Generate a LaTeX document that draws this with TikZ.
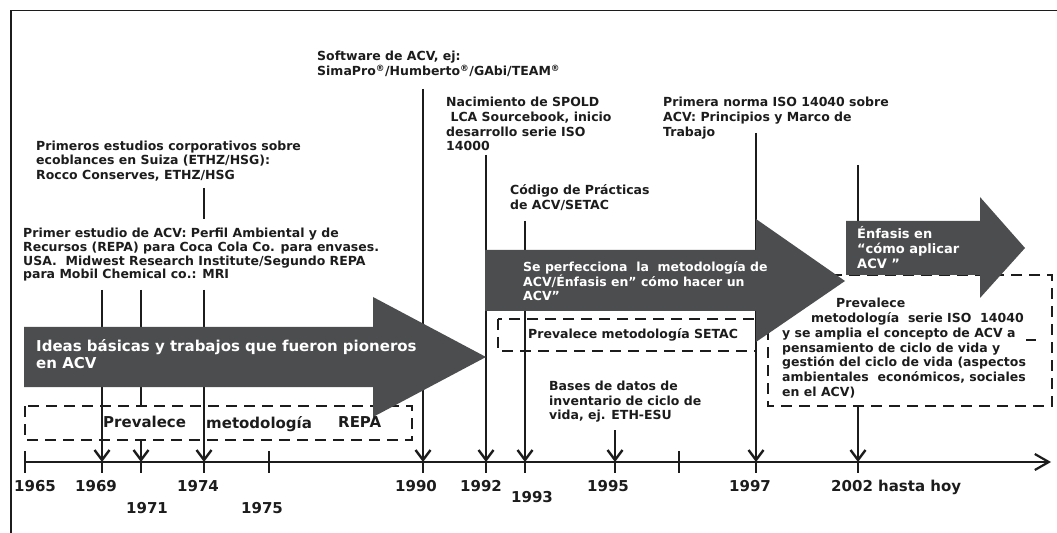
\documentclass[tikz,border=0pt]{standalone}
\usepackage{fontspec}
\setmainfont{DejaVu Sans}
\usetikzlibrary{arrows.meta}
\definecolor{arrowgray}{RGB}{76,77,79}
\definecolor{ink}{RGB}{28,28,28}
\begin{document}
\begin{tikzpicture}[x=1bp,y=-1bp,
  inkline/.style={draw=ink, line width=2.6bp},
  varrow/.style={draw=ink, line width=2.6bp, -{Straight Barb[length=10bp,width=15bp,line width=2.4bp]}},
  tickline/.style={draw=ink, line width=2.2bp},
  dbox/.style={draw=ink, line width=2.6bp, dash pattern=on 11bp off 7bp},
  bigarrow/.style={fill=arrowgray, draw=none},
  note/.style={font=\fontsize{12.5bp}{14.2bp}\selectfont\bfseries, text=ink, anchor=north west, inner sep=0pt, align=left},
  bignote/.style={font=\fontsize{15bp}{17bp}\selectfont\bfseries, text=ink, anchor=north west, inner sep=0pt, align=left},
  year/.style={font=\fontsize{15bp}{17bp}\selectfont\bfseries, text=ink, anchor=base, inner sep=0pt},
]
\useasboundingbox (0,0) rectangle (1057,533);
% frame
\draw[draw=ink, line width=1.6bp] (1057,10.5) -- (11,10.5) -- (11,533);

% dashed boxes
\draw[dbox] (25,406) rectangle (412,440);
\draw[dbox] (498,319) rectangle (756,351);
\draw[dbox] (768,275) rectangle (1052,406);
\draw[draw=ink, line width=2.6bp] (1026,340) -- (1036,340);

% coordinates
\coordinate (t69) at (102,290);   \coordinate (a69) at (102,462);
\coordinate (t71) at (141,290);   \coordinate (b71) at (141,406);
\coordinate (c71) at (141,440);   \coordinate (a71) at (141,462);
\coordinate (u74) at (204,188);   \coordinate (v74) at (204,219);
\coordinate (t74) at (204,290);   \coordinate (a74) at (204,462);
\coordinate (t90) at (423,89);    \coordinate (a90) at (423,462);
\coordinate (t92) at (486,155);   \coordinate (a92) at (486,462);
\coordinate (t93) at (525,221);   \coordinate (a93) at (525,462);
\coordinate (t95) at (615,430);   \coordinate (a95) at (615,462);
\coordinate (t97) at (756,133);   \coordinate (a97) at (756,462);
\coordinate (u02) at (858,165);   \coordinate (v02) at (858,240);
\coordinate (t02) at (858,406);   \coordinate (a02) at (858,462);
\coordinate (axs) at (25,462);    \coordinate (axe) at (1051,462);

% vertical connectors
\draw[varrow] (t69) -- (a69);
\draw[inkline] (t71) -- (b71);
\draw[varrow] (c71) -- (a71);
\draw[inkline] (u74) -- (v74);
\draw[varrow] (t74) -- (a74);
\draw[varrow] (t90) -- (a90);
\draw[varrow] (t92) -- (a92);
\draw[varrow] (t93) -- (a93);
\draw[varrow] (t95) -- (a95);
\draw[varrow] (t97) -- (a97);
\draw[inkline] (u02) -- (v02);
\draw[varrow] (t02) -- (a02);

% axis
\draw[draw=ink, line width=2.4bp, -{Straight Barb[length=14bp,width=16bp,line width=2.2bp]}] (axs) -- (axe);
\foreach \x in {25,269,679} \draw[tickline] (\x,451) -- (\x,473);
\foreach \x in {102,141,204,423,486,525,615,756,858} \draw[tickline] (\x,462) -- (\x,473);

% big arrows
\path[bigarrow] (24,327) -- (373,327) -- (373,297) -- (486,357) -- (373,417) -- (373,387) -- (24,387) -- cycle;
\path[bigarrow] (485,250) -- (756,250) -- (756,219) -- (845,281) -- (756,342) -- (756,311) -- (485,311) -- cycle;
\path[bigarrow] (846,221) -- (980,221) -- (980,197) -- (1025,248) -- (980,298) -- (980,275) -- (846,275) -- cycle;

% texts
\node[note] (n1) at (36,141) {Primeros estudios corporativos sobre\\ecoblances en Suiza (ETHZ/HSG):\\Rocco Conserves, ETHZ/HSG};
\node[note, font=\fontsize{12.5bp}{13.7bp}\selectfont\bfseries] (n2) at (23,228) {Primer estudio de ACV: Perfil Ambiental y de\\Recursos (REPA) para Coca Cola Co. para envases.\\USA.\ \ Midwest Research Institute/Segundo REPA\\para Mobil Chemical co.: MRI};
\node[note, font=\fontsize{12.5bp}{15bp}\selectfont\bfseries] (n3) at (317,51) {Software de ACV, ej:\\SimaPro\textsuperscript{®}/Humberto\textsuperscript{®}/GAbi/TEAM\textsuperscript{®}};
\node[note, font=\fontsize{12.5bp}{14.7bp}\selectfont\bfseries] (n4) at (446,97) {Nacimiento de SPOLD\\\ LCA Sourcebook, inicio\\desarrollo serie ISO\\14000};
\node[note, font=\fontsize{12.5bp}{14.7bp}\selectfont\bfseries] (n5) at (663,97) {Primera norma ISO 14040 sobre\\ACV: Principios y Marco de\\Trabajo};
\node[note, font=\fontsize{12.5bp}{15bp}\selectfont\bfseries] (n6) at (510,184) {Código de Prácticas\\de ACV/SETAC};
\node[note, font=\fontsize{12.5bp}{14.5bp}\selectfont\bfseries] (n7) at (549,381) {Bases de datos de\\inventario de ciclo de\\vida, ej. ETH-ESU};
\node[bignote, text=white] (n8) at (36,339) {Ideas básicas y trabajos que fueron pioneros\\en ACV};
\node[note, text=white, font=\fontsize{12.5bp}{13.6bp}\selectfont\bfseries] (n9) at (523,261) {Se perfecciona\ \ la\ \ metodología de\\ACV/Énfasis en” cómo hacer un\\ACV”};
\node[note] (n10) at (528,328) {Prevalece metodología SETAC};
\node[bignote] (r1) at (103,416) {Prevalece};
\node[bignote] (r2) at (206,416) {metodología};
\node[bignote] (r3) at (338,416) {REPA};
\node[note, text=white, font=\fontsize{13bp}{15bp}\selectfont\bfseries] (n11) at (857,226) {Énfasis en\\“cómo aplicar\\ACV ”};
\node[note, font=\fontsize{12.5bp}{14.8bp}\selectfont\bfseries] (n12) at (782,298) {\hspace*{54bp}Prevalece\\\hspace*{29bp}metodología\ \ serie ISO\ \ 14040\\y se amplia el concepto de ACV a\\pensamiento de ciclo de vida y\\gestión del ciclo de vida (aspectos\\ambientales\ \ económicos, sociales\\en el ACV)};

% axis labels
\node[year] (y65) at (35,491.5) {1965};
\node[year] (y69) at (96,491.5) {1969};
\node[year] (y71) at (147,513.5) {1971};
\node[year] (y74) at (198,491.5) {1974};
\node[year] (y75) at (262,513.5) {1975};
\node[year] (y90) at (416,491.5) {1990};
\node[year] (y92) at (481,491.5) {1992};
\node[year] (y93) at (532,502.5) {1993};
\node[year] (y95) at (608,491.5) {1995};
\node[year] (y97) at (750,491.5) {1997};
\node[year, anchor=base west] (y02) at (831,491.5) {2002 hasta hoy};
\end{tikzpicture}
\end{document}
